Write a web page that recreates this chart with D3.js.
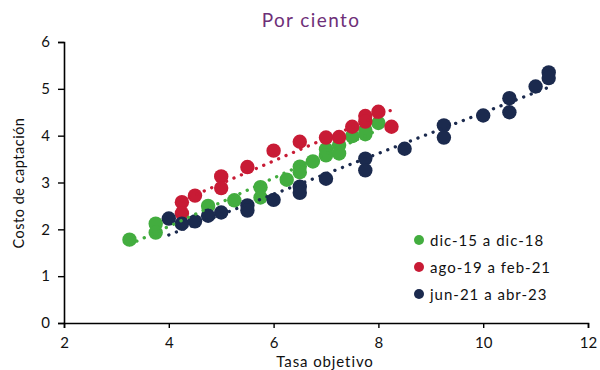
<!DOCTYPE html>
<html>
<head>
<meta charset="utf-8">
<script src="https://cdn.jsdelivr.net/npm/d3@7"></script>
<style>
  html, body { margin: 0; padding: 0; background: #fff; }
  svg text { font-family: Lato, "Open Sans", sans-serif; }
</style>
</head>
<body>
<svg id="chart" width="600" height="370"></svg>
<script>
// Tasa objetivo (x) vs. costo de captación (y), por periodo
const seriesNames = ["dic-15 a dic-18", "ago-19 a feb-21", "jun-21 a abr-23"];
const seriesColors = ["#43ad3f", "#c81b35", "#1b2a4e"];

const greenX = [3.25, 3.75, 3.75, 4.75, 5.25, 5.75, 5.75, 6.25, 6.5, 6.5, 6.75, 7.0, 7.0, 7.25, 7.25, 7.5, 7.75, 7.75, 8.0];
const greenY = [1.78, 2.12, 1.93, 2.50, 2.62, 2.90, 2.68, 3.06, 3.34, 3.22, 3.45, 3.71, 3.58, 3.80, 3.62, 3.99, 4.12, 4.03, 4.27];

const redX = [4.25, 4.25, 4.5, 5.0, 5.0, 5.5, 6.0, 6.5, 7.0, 7.25, 7.5, 7.75, 7.75, 8.0, 8.25];
const redY = [2.58, 2.34, 2.72, 3.13, 2.88, 3.33, 3.68, 3.87, 3.96, 3.97, 4.19, 4.42, 4.30, 4.51, 4.19];

const navyX = [4.0, 4.25, 4.5, 4.75, 5.0, 5.5, 5.5, 6.0, 6.5, 6.5, 7.0, 7.75, 7.75, 8.5, 9.25, 9.25, 10.0, 10.5, 10.5, 11.0, 11.25, 11.25];
const navyY = [2.23, 2.12, 2.17, 2.29, 2.36, 2.51, 2.40, 2.63, 2.91, 2.78, 3.08, 3.51, 3.26, 3.72, 4.22, 3.96, 4.43, 4.80, 4.50, 5.05, 5.35, 5.23];

const xTicks = [2, 4, 6, 8, 10, 12];
const yTicks = [0, 1, 2, 3, 4, 5, 6];

const series = [
  { name: seriesNames[0], color: seriesColors[0], xs: greenX, ys: greenY },
  { name: seriesNames[1], color: seriesColors[1], xs: redX, ys: redY },
  { name: seriesNames[2], color: seriesColors[2], xs: navyX, ys: navyY }
];

const svg = d3.select("#chart");
const x = d3.scaleLinear().domain([2, 12]).range([64, 588]);
const y = d3.scaleLinear().domain([0, 6]).range([323, 42]);

// Título
svg.append("text")
  .attr("x", 311).attr("y", 27)
  .attr("text-anchor", "middle")
  .attr("fill", "#6e2f78")
  .attr("font-size", 19)
  .attr("letter-spacing", 1.4)
  .text("Por ciento");

// Ejes
const xAxis = svg.append("g")
  .attr("transform", `translate(0,${y(0)})`)
  .call(d3.axisBottom(x).tickValues(xTicks).tickSize(5).tickPadding(9).tickFormat(d3.format("d")));
const yAxis = svg.append("g")
  .attr("transform", `translate(${x(2)},0)`)
  .call(d3.axisLeft(y).tickValues(yTicks).tickSize(6).tickPadding(8).tickFormat(d3.format("d")));

[xAxis, yAxis].forEach(g => {
  g.select(".domain").attr("stroke", "#000").attr("stroke-width", 1.6);
  g.selectAll(".tick line").attr("stroke", "#000").attr("stroke-width", 1.4);
  g.selectAll(".tick text").attr("fill", "#111").attr("font-size", 15)
    .style("font-family", "Lato, 'Open Sans', sans-serif");
});

// Títulos de ejes
svg.append("text")
  .attr("x", 325).attr("y", 367)
  .attr("text-anchor", "middle")
  .attr("font-size", 15).attr("fill", "#111")
  .attr("letter-spacing", 0.9)
  .text("Tasa objetivo");
svg.append("text")
  .attr("transform", "translate(24,183) rotate(-90)")
  .attr("text-anchor", "middle")
  .attr("font-size", 14.5).attr("fill", "#111")
  .attr("letter-spacing", 0.5)
  .text("Costo de captación");

// Puntos
series.forEach(s => {
  svg.append("g").selectAll("circle")
    .data(s.xs.map((v, i) => [v, s.ys[i]]))
    .join("circle")
    .attr("cx", d => x(d[0]))
    .attr("cy", d => y(d[1]))
    .attr("r", 7.2)
    .attr("fill", s.color);
});

// Líneas de tendencia lineales (mínimos cuadrados)
function linFit(xs, ys) {
  const mx = d3.mean(xs), my = d3.mean(ys);
  let sxy = 0, sxx = 0;
  xs.forEach((v, i) => { sxy += (v - mx) * (ys[i] - my); sxx += (v - mx) * (v - mx); });
  const b = sxy / sxx;
  return { a: my - b * mx, b };
}
series.forEach(s => {
  const f = linFit(s.xs, s.ys);
  const x0 = d3.min(s.xs), x1 = d3.max(s.xs);
  svg.append("line")
    .attr("x1", x(x0)).attr("y1", y(f.a + f.b * x0))
    .attr("x2", x(x1)).attr("y2", y(f.a + f.b * x1))
    .attr("stroke", s.color)
    .attr("stroke-width", 3.3)
    .attr("stroke-linecap", "round")
    .attr("stroke-dasharray", "0.1 8");
});

// Leyenda
const legend = svg.append("g");
series.forEach((s, i) => {
  const ly = 241 + i * 27;
  legend.append("circle").attr("cx", 419).attr("cy", ly - 1).attr("r", 5).attr("fill", s.color);
  legend.append("text").attr("x", 430).attr("y", ly + 5)
    .attr("font-size", 15).attr("fill", "#111")
    .attr("letter-spacing", 1.0)
    .text(s.name);
});
</script>
</body>
</html>
